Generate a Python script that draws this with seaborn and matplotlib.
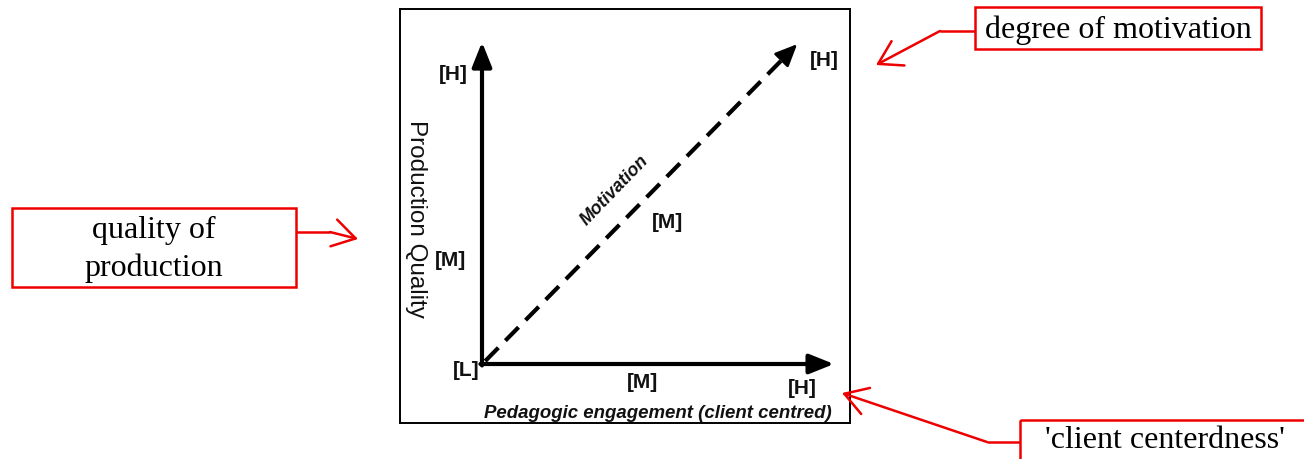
import matplotlib
matplotlib.use('Agg')
import matplotlib.pyplot as plt
import seaborn as sns
from matplotlib.patches import Rectangle

sns.set_style('white')

# ---- diagram content ----
levels = ['[L]', '[M]', '[H]']
x_title = 'Pedagogic engagement (client centred)'
y_title = 'Production Quality'
diag_title = 'Motivation'

# where each level label sits, in diagram units (origin = [L], [H] on x = 1)
engagement_x = [-0.05, 0.50, 1.00]
engagement_y = [-0.02, -0.06, -0.08]
quality_x = [-0.10, -0.09]
quality_y = [0.36, 1.00]
motivation_x = [0.58, 1.07]
motivation_y = [0.49, 1.05]

# arrow tips of the three axes
x_axis_end = 1.10
y_axis_end = 1.11
diag_end = (0.985, 1.103)

# callouts: text, box (x, y, w, h) in pixels, path of the red arrow
callout_texts = ['degree of motivation', 'quality of\nproduction', "'client centerdness'"]
callout_boxes = [(975, 8, 286, 42), (12, 209, 284, 79), (1020, 421, 300, 50)]
callout_paths = [
    [(975, 32), (940, 32), (876, 66)],
    [(296, 233), (330, 233), (358, 240)],
    [(1020, 443), (987, 443), (842, 394)],
]

W, H = 1304, 460
fig = plt.figure(figsize=(W / 100, H / 100), dpi=100, facecolor='white')

# inner diagram axes (the black framed box)
box = (400, 10, 450, 414)
ax = fig.add_axes([box[0] / W, 1 - (box[1] + box[3]) / H, box[2] / W, box[3] / H])
ox, oy, sx, sy = 482, 365, 320, 290  # origin pixel and pixels per unit
ax.set_xlim(-(ox - box[0]) / sx, (box[0] + box[2] - ox) / sx)
ax.set_ylim(-(box[1] + box[3] - oy) / sy, (oy - box[1]) / sy)
ax.set_xticks([])
ax.set_yticks([])
for sp in ax.spines.values():
    sp.set_color('black')
    sp.set_linewidth(1.4)
    sp.set_visible(True)

arrow_kw = dict(arrowstyle='-|>,head_length=1.0,head_width=0.4', color='black',
                lw=3, mutation_scale=15, shrinkA=0, shrinkB=0)
ax.annotate('', xy=(x_axis_end, 0), xytext=(-0.005, 0), arrowprops=arrow_kw)
ax.annotate('', xy=(0, y_axis_end), xytext=(0, -0.005), arrowprops=arrow_kw)

# dashed motivation line
sns.lineplot(x=[0.01, diag_end[0] - 0.035], y=[0.01, diag_end[1] - 0.04], ax=ax,
             color='black', lw=3, linestyle=(0, (4.5, 2.4)))
ax.annotate('', xy=diag_end, xytext=(diag_end[0] - 0.045, diag_end[1] - 0.05),
            arrowprops=dict(arrowstyle='-|>,head_length=0.9,head_width=0.4',
                            color='black', lw=2, mutation_scale=15,
                            shrinkA=0, shrinkB=0))

lab = dict(fontfamily='Liberation Sans', fontweight='bold', fontsize=15,
           ha='center', va='center', color='#111111')
for t, x, y in zip(levels, engagement_x, engagement_y):
    ax.text(x, y, t, **lab)
for t, x, y in zip(levels[1:], quality_x, quality_y):
    ax.text(x, y, t, **lab)
for t, x, y in zip(levels[1:], motivation_x, motivation_y):
    ax.text(x, y, t, **lab)

ax.text(0.415, 0.60, diag_title, rotation=46, fontfamily='Liberation Sans',
        fontweight='bold', fontstyle='italic', fontsize=13,
        ha='center', va='center', color='#111111')
ax.text(-0.205, 0.505, y_title, rotation=-90, fontfamily='Liberation Sans',
        fontsize=17.5, ha='center', va='center', color='#111111')
ax.text(0.55, -0.166, x_title, fontfamily='Liberation Sans', fontweight='bold',
        fontstyle='italic', fontsize=13.4, ha='center', va='center', color='#111111')

# overlay axes in pixel coordinates for the red callouts
ov = fig.add_axes([0, 0, 1, 1], zorder=5)
ov.set_facecolor('none')
ov.set_xlim(0, W)
ov.set_ylim(H, 0)
ov.axis('off')

red = '#ee0000'
for text, (bx, by, bw, bh), path in zip(callout_texts, callout_boxes, callout_paths):
    ov.add_patch(Rectangle((bx, by), bw, bh, fill=False, edgecolor=red, lw=1.8,
                           clip_on=False))
    cx = bx + bw / 2 if bx + bw <= W else (bx + W) / 2 + 3
    cy = by + bh / 2 if by + bh <= H else by + 19
    ov.text(cx, cy + 1, text, fontfamily='Liberation Serif', fontsize=23,
            ha='center', va='center', linespacing=1.4, color='black')
    xs = [p[0] for p in path[:-1]]
    ys = [p[1] for p in path[:-1]]
    ov.plot(xs, ys, color=red, lw=1.8, solid_capstyle='butt')
    ov.annotate('', xy=path[-1], xytext=path[-2],
                arrowprops=dict(arrowstyle='->,head_length=0.9,head_width=0.55',
                                color=red, lw=1.8, mutation_scale=18,
                                shrinkA=0, shrinkB=0))

fig.savefig('out.png', dpi=100, facecolor='white')
